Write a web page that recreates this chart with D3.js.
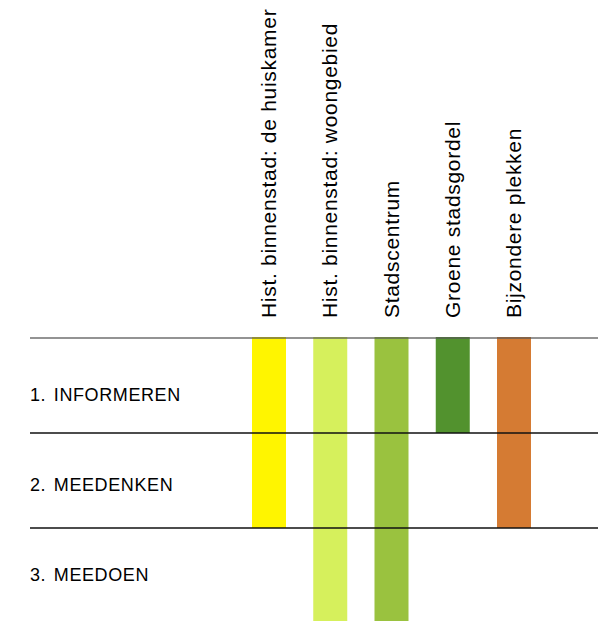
<!DOCTYPE html>
<meta charset="utf-8">
<style>
body {
  margin: 0;
  background: #ffffff;
}

text {
  font-family: "Liberation Sans", Arial, sans-serif;
  fill: #000000;
}

.col-label {
  font-size: 21px;
  letter-spacing: 0.7px;
}

.row-label {
  font-size: 18px;
  letter-spacing: 0.6px;
  word-spacing: 2px;
}
</style>
<script src="https://d3js.org/d3.v7.min.js"></script>

<div id="chart"></div>

<script>

// participation levels (rows)
var levels = ["1. INFORMEREN", "2. MEEDENKEN", "3. MEEDOEN"];

// areas (columns)
var areas = [
  "Hist. binnenstad: de huiskamer",
  "Hist. binnenstad: woongebied",
  "Stadscentrum",
  "Groene stadsgordel",
  "Bijzondere plekken"
];

// deepest level reached per area (1..3)
var reach = [2, 3, 3, 1, 2];

var colors = ["#fff500", "#d6f05c", "#9ac23f", "#52922e", "#d57b33"];

var width = 608,
    height = 621;

var svg = d3.select("#chart").append("svg")
    .attr("width", width)
    .attr("height", height);

// rows: level index -> band
var y = d3.scaleLinear()
    .domain([0, levels.length])
    .range([338, 623]);

// baseline of the row labels (they sit a bit off the band centres)
var yLabel = d3.scalePoint()
    .domain(levels)
    .range([401, 581]);

// columns: bar centers
var x = d3.scalePoint()
    .domain(areas)
    .range([269, 514]);

var barWidth = 34;

// bars
svg.append("g")
    .attr("class", "bars")
  .selectAll("rect")
  .data(areas)
  .enter().append("rect")
    .attr("x", d => x(d) - barWidth / 2)
    .attr("y", y(0) - 1)
    .attr("width", barWidth)
    .attr("height", (d, i) => y(reach[i]) - y(0) + 1)
    .attr("fill", (d, i) => colors[i]);

// horizontal separators
svg.append("g")
    .attr("class", "lines")
  .selectAll("line")
  .data(d3.range(levels.length))
  .enter().append("line")
    .attr("x1", 30)
    .attr("x2", 598)
    .attr("y1", d => y(d))
    .attr("y2", d => y(d))
    .attr("stroke", d => d == 0 ? "#555555" : "#111111")
    .attr("stroke-opacity", d => d == 0 ? 0.85 : 1)
    .attr("stroke-width", 1.5);

// row labels
svg.append("g")
  .selectAll("text")
  .data(levels)
  .enter().append("text")
    .attr("class", "row-label")
    .attr("x", 30)
    .attr("y", d => yLabel(d))
    .text(d => d);

// column labels, rotated
svg.append("g")
  .selectAll("text")
  .data(areas)
  .enter().append("text")
    .attr("class", "col-label")
    .attr("transform", d => "translate(" + (x(d) + 7) + ",318) rotate(-90)")
    .text(d => d);

</script>
